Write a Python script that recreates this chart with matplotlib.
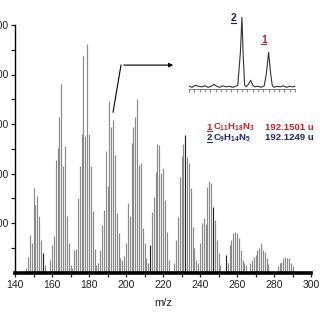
import matplotlib
matplotlib.use('Agg')
import matplotlib.pyplot as plt
import numpy as np
from matplotlib.lines import Line2D
from matplotlib.ticker import MultipleLocator, FixedLocator

plt.rcParams['font.family'] = ['Liberation Sans', 'DejaVu Sans']
plt.rcParams['mathtext.fontset'] = 'custom'
plt.rcParams['mathtext.rm'] = 'Liberation Sans'
plt.rcParams['mathtext.bf'] = 'Liberation Sans:bold'
plt.rcParams['mathtext.it'] = 'Liberation Sans:italic'

# spectre principal (m/z, intensite)
mz = [146, 147, 148, 149, 150, 151, 152, 153, 154, 155, 156,
      159, 160, 161, 162, 163, 164, 165, 166, 167, 168, 169, 170,
      171, 172, 173, 174, 175, 176, 177, 178, 179, 180, 181, 182, 183, 184,
      185, 186, 187, 188, 189, 190, 191, 192, 193, 194, 195, 196, 197,
      198, 199, 200, 201, 202, 203, 204, 205, 206, 207, 208, 209, 210, 211,
      212, 213, 214, 215, 216, 217, 218, 219, 220, 221, 222, 223,
      226, 227, 228, 229, 230, 231, 232, 233, 234, 235, 236, 237, 238,
      239, 240, 241, 242, 243, 244, 245, 246, 247, 248, 249, 250, 251,
      254, 255, 256, 257, 258, 259, 260, 261, 262, 263, 264, 265,
      267, 268, 269, 270, 271, 272, 273, 274, 275, 276, 277,
      282, 283, 284, 285, 286, 287, 288, 289, 290]
intensity = [20, 64, 151, 118, 340, 273, 310, 228, 131, 80, 30,
             50, 111, 147, 455, 502, 630, 761, 430, 512, 228, 119, 30,
             20, 90, 95, 300, 430, 560, 875, 550, 925, 560, 430, 250, 95, 30,
             40, 91, 192, 252, 492, 349, 693, 589, 616, 475, 242, 158, 60,
             50, 67, 118, 280, 230, 525, 589, 627, 703, 434, 441, 178, 118, 60,
             40, 111, 246, 306, 405, 520, 515, 401, 421, 293, 165, 50,
             40, 131, 225, 385, 470, 520, 555, 468, 441, 340, 185, 98, 50,
             40, 119, 200, 220, 195, 347, 370, 361, 266, 212, 131, 78, 30,
             71, 40, 111, 131, 161, 165, 158, 138, 91, 50, 40, 30,
             37, 50, 64, 71, 91, 98, 118, 91, 84, 57, 35,
             25, 37, 44, 57, 64, 57, 60, 40, 25]
dark_mz = [155, 213, 232, 247, 254]

# zoom haute resolution autour de m/z 192
hr_mz = [192.075, 192.078, 192.081, 192.084, 192.087, 192.090, 192.093, 192.096,
         192.0985, 192.101, 192.104, 192.107, 192.110, 192.113, 192.116, 192.119,
         192.121, 192.1235, 192.1249, 192.1262, 192.1275, 192.129, 192.1310, 192.1332,
         192.1352, 192.137, 192.140, 192.143, 192.146, 192.148, 192.1501, 192.152,
         192.1535, 192.155, 192.158, 192.161, 192.164, 192.167, 192.170, 192.173, 192.175]
hr_int = [1, 0, 2, 1, 0.5, 1.5, 0, 1,
          3, 1, 0, 1.5, 0.5, 1, 0, 1,
          2, 35, 70, 30, 2, 0.5, 3, 7,
          2, 0.5, 1, 0, 1.5, 14, 35, 14,
          2, 0, 1, 0.5, 1.5, 0, 1, 0.5, 1]

peaks = ['1', '2']
formulas = [r'$\mathbf{C_{11}H_{18}N_3}$', r'$\mathbf{C_9H_{14}N_5}$']
masses = ['192.1501 u', '192.1249 u']
colors = ['#c3242b', '#1f2468']

W = 320.0
def fx(x):
    return x / W
def fy(y):
    return 1 - y / W

fig = plt.figure(figsize=(3.2, 3.2), dpi=100)
ax = fig.add_axes([fx(15), fy(272.5), fx(311) - fx(15), fy(25) - fy(272.5)])

cols = ['#222222' if m in dark_mz else '#8a8a8a' for m in mz]
ax.vlines(mz, 0, intensity, colors=cols, linewidth=0.85)

ax.set_xlim(140, 300)
ax.set_ylim(0, 1000)
ax.spines['top'].set_visible(False)
ax.spines['right'].set_visible(False)
ax.spines['bottom'].set_linewidth(2.6)
ax.spines['left'].set_linewidth(1.0)
ax.xaxis.set_major_locator(MultipleLocator(20))
ax.xaxis.set_minor_locator(MultipleLocator(10))
ax.yaxis.set_major_locator(FixedLocator([200, 400, 600, 800, 1000]))
ax.yaxis.set_minor_locator(FixedLocator([100, 300, 500, 700, 900]))
ax.tick_params(which='both', direction='out', length=3, width=0.9, labelsize=7.5, colors='#222222')
ax.tick_params(axis='x', pad=2.5)
ax.tick_params(axis='y', pad=1.5)
ax.set_xlabel('m/z', fontsize=8, color='#222222', labelpad=6)

# fleche vers l'encart
ax.annotate('', xy=(227, 838), xytext=(197.3, 838),
            arrowprops=dict(arrowstyle='-|>', color='black', lw=0.8, mutation_scale=6),
            annotation_clip=False)
ax.plot([193.0, 197.3], [648, 838], color='black', lw=0.8, clip_on=False)

# encart
ins = fig.add_axes([fx(189), fy(92), fx(295) - fx(189), fy(10) - fy(92)])
ins.plot(hr_mz, hr_int, color='#333333', lw=0.8)
ins.set_xlim(192.075, 192.175)
ins.set_ylim(-4.7, 77.3)
ins.patch.set_alpha(0)
for s in ['top', 'right', 'left']:
    ins.spines[s].set_visible(False)
ins.spines['bottom'].set_position(('data', -1.2))
ins.spines['bottom'].set_linewidth(0.5)
ins.spines['bottom'].set_color('#555555')
ins.set_yticks([])
ins.xaxis.set_major_locator(MultipleLocator(0.01))
ins.xaxis.set_minor_locator(MultipleLocator(0.005))
ins.tick_params(which='both', direction='out', length=1.8, width=0.5, colors='#555555', labelbottom=False)

def underlined(x, y, s, color, w, size=7.5):
    fig.text(fx(x), fy(y), s, color=color, fontsize=size, fontweight='bold', ha='center', va='center')
    fig.lines.append(Line2D([fx(x - w / 2), fx(x + w / 2)], [fy(y + 4.2), fy(y + 4.2)],
                            transform=fig.transFigure, color=color, lw=0.8))

underlined(233.5, 18.3, peaks[1], colors[1], 5)
underlined(263.8, 40, peaks[0], colors[0], 5)

for i, yy in enumerate([127, 138]):
    underlined(209.5, yy, peaks[i], colors[i], 4.5, 6.8)
    fig.text(fx(213), fy(yy), formulas[i], color=colors[i], fontsize=6.8, ha='left', va='center')
    fig.text(fx(314), fy(yy), masses[i], color=colors[i], fontsize=6.8, fontweight='bold', ha='right', va='center')

fig.savefig('out.png', dpi=100)
